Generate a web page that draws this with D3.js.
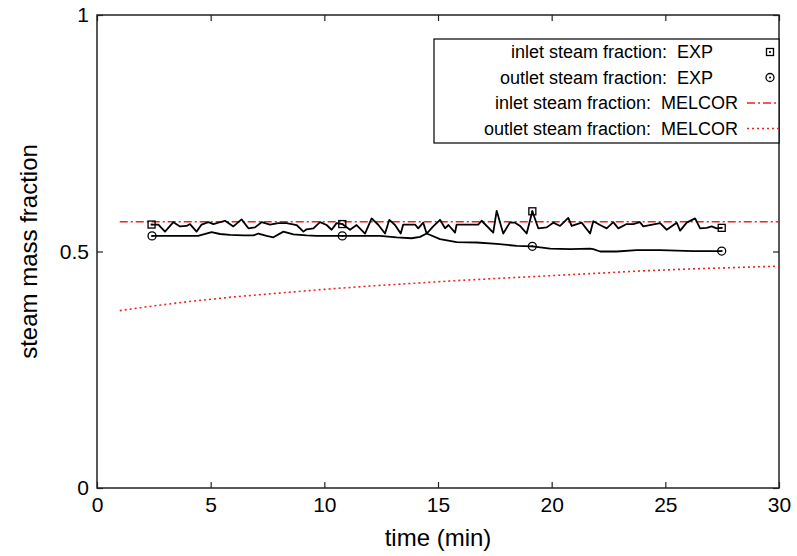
<!DOCTYPE html>
<html>
<head>
<meta charset="utf-8">
<script src="https://cdn.jsdelivr.net/npm/d3@7"></script>
<style>
  html, body { margin: 0; padding: 0; background: #fff; }
  svg { display: block; }
  text { font-family: "Liberation Sans", Arial, Helvetica, sans-serif; fill: #000; }
</style>
</head>
<body>
<svg id="chart" width="797" height="556"></svg>
<script>
// Measured inlet steam fraction [time (min), fraction]
const inletExp = [
  [2.40, 0.557], [2.70, 0.557], [2.99, 0.542], [3.36, 0.562], [3.65, 0.553],
  [3.94, 0.554], [4.09, 0.558], [4.38, 0.542], [4.60, 0.557], [4.90, 0.562],
  [5.12, 0.558], [5.63, 0.565], [6.00, 0.553], [6.36, 0.568], [6.66, 0.549],
  [6.95, 0.551], [7.24, 0.562], [7.61, 0.557], [7.98, 0.560], [8.34, 0.560],
  [8.78, 0.556], [9.08, 0.542], [9.22, 0.547], [9.52, 0.549], [9.81, 0.562],
  [10.10, 0.556], [10.32, 0.546], [10.54, 0.560], [10.79, 0.558], [11.13, 0.546],
  [11.42, 0.556], [11.79, 0.538], [12.08, 0.570], [12.38, 0.556], [12.67, 0.538],
  [12.86, 0.567], [13.11, 0.556], [13.36, 0.538], [13.47, 0.557], [13.99, 0.557],
  [14.13, 0.549], [14.35, 0.561], [14.50, 0.538], [14.79, 0.553], [15.09, 0.567],
  [15.31, 0.549], [15.46, 0.556], [15.75, 0.540], [15.82, 0.557], [16.29, 0.557],
  [16.77, 0.557], [16.92, 0.565], [17.43, 0.540], [17.58, 0.586], [17.87, 0.538],
  [18.16, 0.561], [18.39, 0.561], [18.61, 0.554], [18.90, 0.538], [19.15, 0.585],
  [19.41, 0.549], [19.78, 0.551], [20.07, 0.561], [20.37, 0.554], [20.73, 0.571],
  [20.88, 0.554], [21.32, 0.561], [21.69, 0.538], [21.83, 0.564], [22.13, 0.556],
  [22.42, 0.549], [22.71, 0.562], [22.93, 0.549], [23.30, 0.558], [23.59, 0.558],
  [23.88, 0.562], [24.03, 0.553], [24.77, 0.560], [25.06, 0.546], [25.50, 0.561],
  [25.65, 0.544], [25.94, 0.561], [26.31, 0.570], [26.53, 0.549], [26.82, 0.550],
  [27.04, 0.553], [27.26, 0.549], [27.48, 0.550]
];

// Measured outlet steam fraction [time (min), fraction]
const outletExp = [
  [2.42, 0.533], [4.45, 0.533], [5.04, 0.541], [5.41, 0.537], [5.85, 0.535],
  [6.44, 0.534], [6.88, 0.534], [7.10, 0.538], [7.46, 0.533], [7.76, 0.530],
  [8.20, 0.542], [8.64, 0.536], [9.22, 0.534], [9.66, 0.533], [10.79, 0.533],
  [12.45, 0.533], [13.18, 0.530], [13.84, 0.528], [14.21, 0.531], [14.50, 0.538],
  [15.09, 0.526], [15.82, 0.520], [16.70, 0.519], [17.58, 0.516], [18.46, 0.512],
  [19.15, 0.511], [19.93, 0.506], [20.81, 0.505], [21.69, 0.506], [21.83, 0.505],
  [22.13, 0.500], [22.86, 0.500], [23.74, 0.503], [24.77, 0.503], [26.24, 0.501],
  [27.48, 0.501]
];

// Times at which the measured series carry a point symbol
const markTimes = [2.40, 10.79, 19.15, 27.48];
const outletMarkTimes = [2.42, 10.79, 19.15, 27.48];

// MELCOR results [time (min), fraction]
const inletMelcor = [[1, 0.563], [30, 0.563]];
const outletMelcor = [
  [1, 0.375], [2, 0.382], [3, 0.388], [4, 0.394], [5, 0.399], [6, 0.404],
  [7, 0.408], [8, 0.412], [10, 0.420], [12, 0.427], [14, 0.433], [16, 0.439],
  [18, 0.444], [20, 0.449], [22, 0.454], [24, 0.459], [26, 0.463], [28, 0.466],
  [30, 0.469]
];

const xTicks = [0, 5, 10, 15, 20, 25, 30];
const yTicks = [0, 0.5, 1];
const yTickLabels = ["0", "0.5", "1"];

const legendLabels = [
  "inlet steam fraction:  EXP",
  "outlet steam fraction:  EXP",
  "inlet steam fraction:  MELCOR",
  "outlet steam fraction:  MELCOR"
];

const svg = d3.select("#chart");
const L = 97, R = 779, T = 15, B = 488;

const x = d3.scaleLinear().domain([0, 30]).range([L, R]);
const y = d3.scaleLinear().domain([0, 1]).range([B, T]);

const RED = "#ee2222";
const DASHDOT = "8,3,2,3";
const DOTTED = "2,3";

// Axes (ticks point inward, mirrored on top and right)
const axisStyle = g => {
  g.select(".domain").remove();
  g.selectAll(".tick line").attr("stroke", "#222").attr("stroke-width", 1.2);
  g.selectAll("text").style("font-size", "21px").attr("fill", "#000");
};

svg.append("g").attr("transform", `translate(0,${B})`)
  .call(d3.axisBottom(x).tickValues(xTicks).tickSize(-6).tickPadding(9).tickFormat(d3.format("d")))
  .call(axisStyle);
svg.append("g").attr("transform", `translate(${L},0)`)
  .call(d3.axisLeft(y).tickValues(yTicks).tickSize(-6).tickPadding(8)
    .tickFormat((d, i) => yTickLabels[i]))
  .call(axisStyle);
svg.append("g").attr("transform", `translate(0,${T})`)
  .call(d3.axisTop(x).tickValues(xTicks).tickSize(-6).tickFormat(""))
  .call(axisStyle);
svg.append("g").attr("transform", `translate(${R},0)`)
  .call(d3.axisRight(y).tickValues(yTicks).tickSize(-6).tickFormat(""))
  .call(axisStyle);

svg.selectAll("g text").attr("fill", "#000");

// Frame
svg.append("rect")
  .attr("x", L).attr("y", T).attr("width", R - L).attr("height", B - T)
  .attr("fill", "none").attr("stroke", "#222").attr("stroke-width", 1.5);

// Axis titles
svg.append("text")
  .attr("x", (L + R) / 2).attr("y", 546)
  .attr("text-anchor", "middle")
  .style("font-size", "24px")
  .text("time (min)");
svg.append("text")
  .attr("transform", `translate(37,${(T + B) / 2}) rotate(-90)`)
  .attr("text-anchor", "middle")
  .style("font-size", "24px")
  .text("steam mass fraction");

const line = d3.line().x(d => x(d[0])).y(d => y(d[1]));

// MELCOR curves
svg.append("path").datum(inletMelcor).attr("d", line)
  .attr("fill", "none").attr("stroke", RED).attr("stroke-width", 1.4)
  .attr("stroke-dasharray", DASHDOT);
svg.append("path").datum(outletMelcor).attr("d", line)
  .attr("fill", "none").attr("stroke", RED).attr("stroke-width", 1.6)
  .attr("stroke-dasharray", DOTTED);

// Measured curves
svg.append("path").datum(outletExp).attr("d", line)
  .attr("fill", "none").attr("stroke", "#000").attr("stroke-width", 1.8)
  .attr("stroke-linejoin", "round");
svg.append("path").datum(inletExp).attr("d", line)
  .attr("fill", "none").attr("stroke", "#000").attr("stroke-width", 1.8)
  .attr("stroke-linejoin", "round");

function squareMark(g, cx, cy) {
  g.append("rect").attr("x", cx - 3.5).attr("y", cy - 3.5).attr("width", 7).attr("height", 7)
    .attr("fill", "none").attr("stroke", "#000").attr("stroke-width", 1.3);
  g.append("rect").attr("x", cx - 0.9).attr("y", cy - 0.9).attr("width", 1.8).attr("height", 1.8)
    .attr("fill", "#000");
}
function circleMark(g, cx, cy) {
  g.append("circle").attr("cx", cx).attr("cy", cy).attr("r", 4)
    .attr("fill", "none").attr("stroke", "#000").attr("stroke-width", 1.3);
  g.append("circle").attr("cx", cx).attr("cy", cy).attr("r", 1)
    .attr("fill", "#000");
}

const marks = svg.append("g");
inletExp.filter(d => markTimes.includes(d[0]))
  .forEach(d => squareMark(marks, x(d[0]), y(d[1])));
outletExp.filter(d => outletMarkTimes.includes(d[0]))
  .forEach(d => circleMark(marks, x(d[0]), y(d[1])));

// Legend
const lg = svg.append("g");
lg.append("rect").attr("x", 434).attr("y", 39).attr("width", R - 434).attr("height", 104)
  .attr("fill", "#fff").attr("stroke", "#000").attr("stroke-width", 1.2);
const rowY = [52, 77.5, 103, 128.5];
const textRight = [713, 713, 738, 738];
legendLabels.forEach((lab, i) => {
  lg.append("text")
    .attr("x", textRight[i]).attr("y", rowY[i]).attr("dy", "0.35em")
    .attr("text-anchor", "end")
    .style("font-size", "18px").style("white-space", "pre")
    .text(lab);
});
squareMark(lg, 770, rowY[0]);
circleMark(lg, 770, rowY[1]);
lg.append("line").attr("x1", 747).attr("x2", R).attr("y1", rowY[2]).attr("y2", rowY[2])
  .attr("stroke", RED).attr("stroke-width", 1.4).attr("stroke-dasharray", DASHDOT);
lg.append("line").attr("x1", 747).attr("x2", R).attr("y1", rowY[3]).attr("y2", rowY[3])
  .attr("stroke", RED).attr("stroke-width", 1.6).attr("stroke-dasharray", DOTTED);
</script>
</body>
</html>
